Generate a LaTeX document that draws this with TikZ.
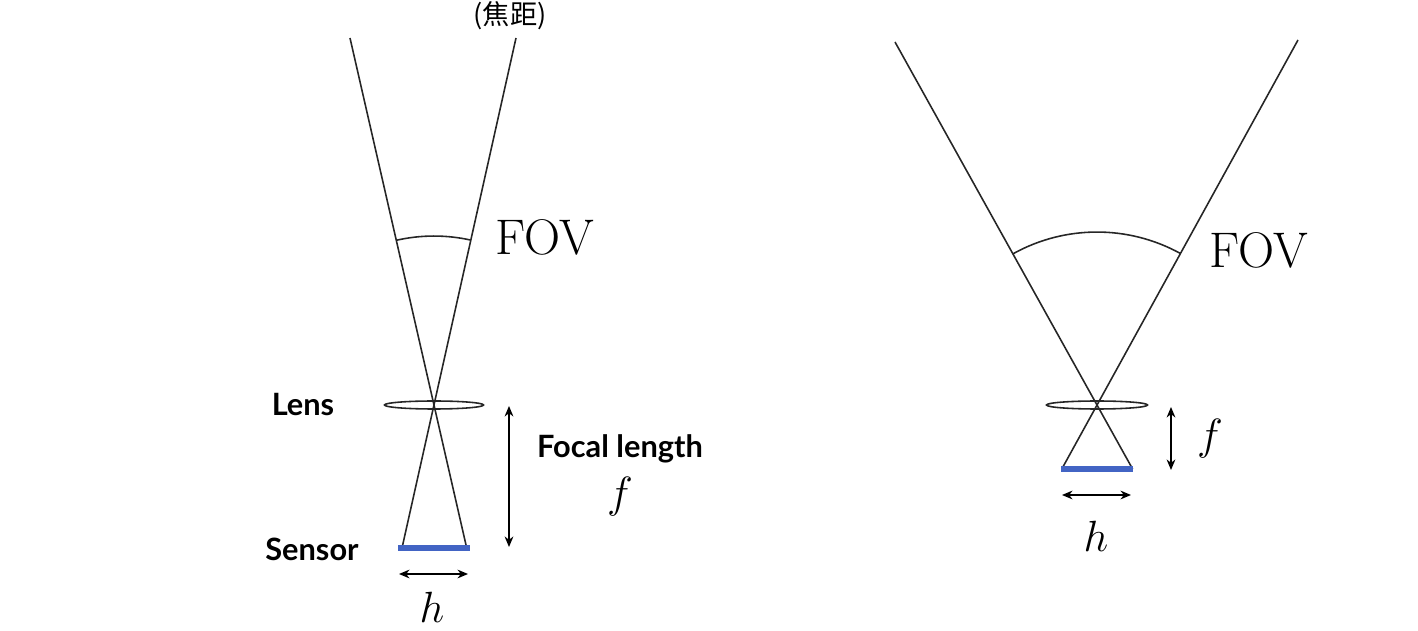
\documentclass[tikz,border=0pt]{standalone}
\usepackage{fontspec}
\usetikzlibrary{arrows.meta}
\newfontfamily\cjkfont{Noto Sans CJK SC}
\newfontfamily\lblfont{Lato}
\definecolor{sensorblue}{RGB}{66,100,196}
\tikzset{
  ray/.style={line width=0.9pt, black!85},
  lensshape/.style={line width=0.9pt, black!85},
  sensorbar/.style={line width=3.4pt, sensorblue},
  dimarrow/.style={line width=0.85pt, {Stealth[length=6pt,width=5pt]}-{Stealth[length=6pt,width=5pt]}},
  fovarc/.style={line width=0.9pt, black!85},
  bigtext/.style={font=\fontsize{28.5}{32}\selectfont},
  mathtext/.style={inner sep=0.5pt, font=\fontsize{24.88}{30}\selectfont},
  sidelabel/.style={font=\lblfont\bfseries\fontsize{17.5}{20}\selectfont},
}
\begin{document}
\begin{tikzpicture}[x=0.02cm,y=-0.02cm]
\useasboundingbox (0,0) rectangle (1418,631);
% ---------- left diagram ----------
\coordinate (L1) at (434,405);
\coordinate (T1a) at (350,38);
\coordinate (T1b) at (516,38);
\coordinate (B1a) at (466.7,548);
\coordinate (B1b) at (402,548);
\coordinate (S1a) at (398,548);
\coordinate (S1b) at (470,548);
\draw[lensshape] (L1) ellipse [x radius=0.99cm, y radius=0.08cm];
\draw[ray] (T1a) -- (B1a);
\draw[ray] (T1b) -- (B1b);
\draw[sensorbar] (S1a) -- (S1b);
\draw[fovarc] (L1) ++(102.9:3.38cm) arc[start angle=102.9, end angle=77.4, radius=3.38cm];
\coordinate (H1a) at (399,574);
\coordinate (H1b) at (468,574);
\draw[dimarrow] (H1a) -- (H1b);
\coordinate (F1a) at (509,406);
\coordinate (F1b) at (509,547);
\draw[dimarrow] (F1a) -- (F1b);
\node[bigtext] (fov1) at (545,237) {FOV};
\node[font=\cjkfont\fontsize{15.5}{18}\selectfont] (jiaoju) at (510,16) {(焦距)};
\node[sidelabel] (lens1) at (303,405) {Lens};
\node[sidelabel] (sensor1) at (312,549) {Sensor};
\node[sidelabel] (focal) at (620,449) {Focal length};
\node[mathtext] (f1) at (620,497) {$f$};
\node[mathtext] (h1) at (432,607) {$h$};
% ---------- right diagram ----------
\coordinate (L2) at (1097,405);
\coordinate (T2a) at (895,42);
\coordinate (T2b) at (1298,40);
\coordinate (B2a) at (1132.6,469);
\coordinate (B2b) at (1061.8,469);
\coordinate (S2a) at (1061,469);
\coordinate (S2b) at (1133,469);
\draw[lensshape] (L2) ellipse [x radius=1.01cm, y radius=0.08cm];
\draw[ray] (T2a) -- (B2a);
\draw[ray] (T2b) -- (B2b);
\draw[sensorbar] (S2a) -- (S2b);
\draw[fovarc] (L2) ++(119.1:3.46cm) arc[start angle=119.1, end angle=61.2, radius=3.46cm];
\coordinate (H2a) at (1062,495);
\coordinate (H2b) at (1131,495);
\draw[dimarrow] (H2a) -- (H2b);
\coordinate (F2a) at (1171,407);
\coordinate (F2b) at (1171,470);
\draw[dimarrow] (F2a) -- (F2b);
\node[bigtext] (fov2) at (1259,250) {FOV};
\node[mathtext] (f2) at (1210,439) {$f$};
\node[mathtext] (h2) at (1096,536) {$h$};
\end{tikzpicture}
\end{document}
